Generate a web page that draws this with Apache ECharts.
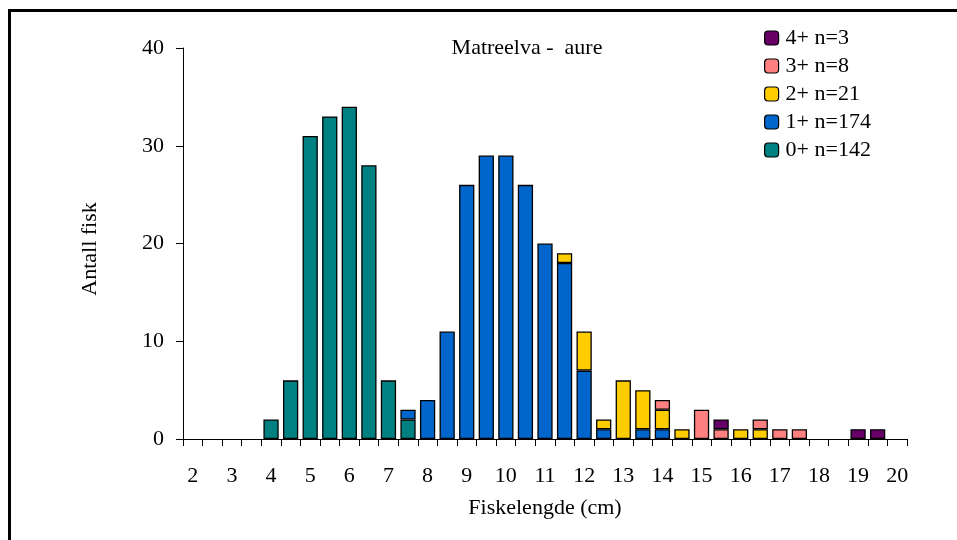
<!DOCTYPE html>
<html><head><meta charset="utf-8">
<script src="https://cdn.jsdelivr.net/npm/echarts@6/dist/echarts.min.js"></script>
<style>html,body{margin:0;padding:0;background:#fff}#c{width:957px;height:540px}</style>
</head><body><div id="c"></div>
<script>
const categories = ['2','2.5','3','3.5','4','4.5','5','5.5','6','6.5','7','7.5','8','8.5','9','9.5','10','10.5','11','11.5','12','12.5','13','13.5','14','14.5','15','15.5','16','16.5','17','17.5','18','18.5','19','19.5','20'];
const age0 = [0,0,0,0,2,6,31,33,34,28,6,2,0,0,0,0,0,0,0,0,0,0,0,0,0,0,0,0,0,0,0,0,0,0,0,0,0];
const age1 = [0,0,0,0,0,0,0,0,0,0,0,1,4,11,26,29,29,26,20,18,7,1,0,1,1,0,0,0,0,0,0,0,0,0,0,0,0];
const age2 = [0,0,0,0,0,0,0,0,0,0,0,0,0,0,0,0,0,0,0,1,4,1,6,4,2,1,0,0,1,1,0,0,0,0,0,0,0];
const age3 = [0,0,0,0,0,0,0,0,0,0,0,0,0,0,0,0,0,0,0,0,0,0,0,0,1,0,3,1,0,1,1,1,0,0,0,0,0];
const age4 = [0,0,0,0,0,0,0,0,0,0,0,0,0,0,0,0,0,0,0,0,0,0,0,0,0,0,0,1,0,0,0,0,0,0,1,1,0];
const seriesNames = ['0+ n=142','1+ n=174','2+ n=21','3+ n=8','4+ n=3'];
const seriesColors = ['#008080','#0066CC','#FFCC00','#FF8080','#660066'];
const yTicks = [0,10,20,30,40];

const font = 'Liberation Serif, Times New Roman, serif';
const chart = echarts.init(document.getElementById('c'), null, {renderer:'canvas'});
const datas = [age0, age1, age2, age3, age4];
chart.setOption({
  animation: false,
  backgroundColor: '#fff',
  textStyle: {fontFamily: font, color: '#000'},
  title: {text: 'Matreelva -  aure', left: 522, top: 32, textAlign: 'center',
    textStyle: {fontFamily: font, fontSize: 22, fontWeight: 'normal', color: '#000'}},
  legend: {
    data: seriesNames.slice().reverse(), orient: 'vertical', left: 759, top: 22,
    itemWidth: 14, itemHeight: 14, itemGap: 6,
    textStyle: {fontFamily: font, fontSize: 22, color: '#000', padding: [0,0,0,2]},
    itemStyle: {borderColor: '#000', borderWidth: 1.2}
  },
  graphic: [{type: 'rect', shape: {x: 9.5, y: 10.5, width: 1000, height: 600},
    style: {fill: 'none', stroke: '#000', lineWidth: 3}, silent: true}],
  grid: {left: 183, right: 50, top: 48, bottom: 101},
  xAxis: {
    type: 'category', data: categories, boundaryGap: true,
    name: 'Fiskelengde (cm)', nameLocation: 'middle', nameGap: 58,
    nameTextStyle: {fontFamily: font, fontSize: 22, color: '#000'},
    axisLine: {lineStyle: {color: '#000', width: 1}},
    axisTick: {show: true, interval: 0, length: 7, lineStyle: {color: '#000'}},
    axisLabel: {interval: 1, fontFamily: font, fontSize: 22, color: '#000', margin: 26}
  },
  yAxis: {
    type: 'value', min: yTicks[0], max: yTicks[yTicks.length-1], interval: 10,
    name: 'Antall fisk', nameLocation: 'middle', nameGap: 82, nameRotate: 90,
    nameTextStyle: {fontFamily: font, fontSize: 22, color: '#000', padding: [0,11,0,0]},
    axisLine: {show: true, lineStyle: {color: '#000', width: 1}},
    axisTick: {show: true, length: 7, lineStyle: {color: '#000'}},
    splitLine: {show: false},
    axisLabel: {fontFamily: font, fontSize: 22, color: '#000', margin: 19}
  },
  series: seriesNames.map((n, i) => ({
    name: n, type: 'bar', stack: 'a', data: datas[i].map(v => v === 0 ? '-' : v), barCategoryGap: '22%',
    itemStyle: {color: seriesColors[i], borderColor: '#000', borderWidth: 1.3}
  }))
});
</script></body></html>
